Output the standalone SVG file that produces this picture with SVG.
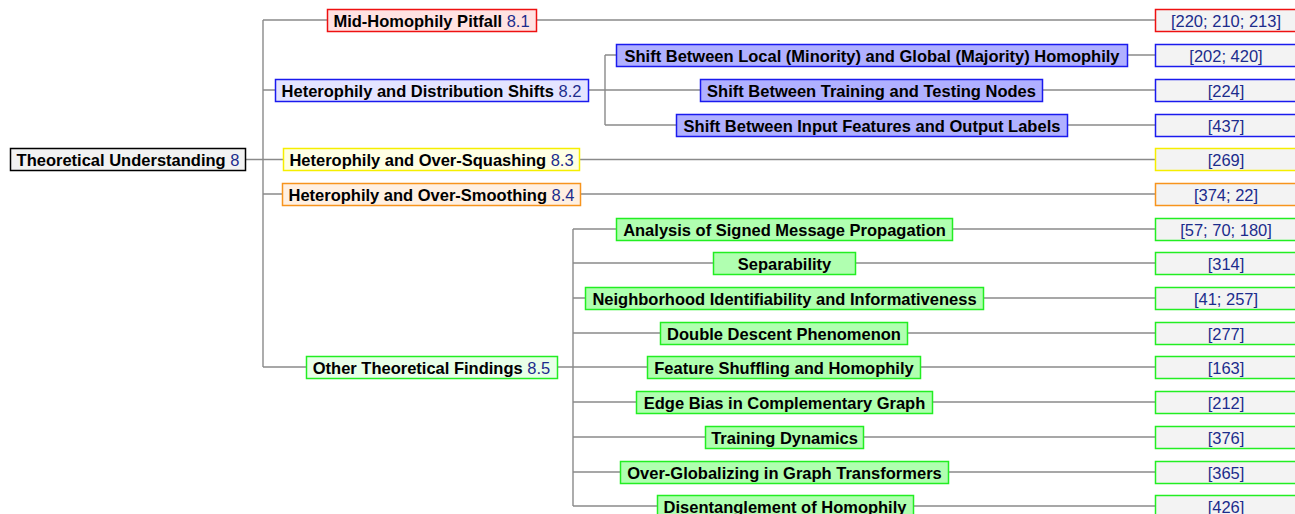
<svg xmlns="http://www.w3.org/2000/svg" width="1295" height="514" viewBox="0 0 1295 514">
<style>
text{font-family:"Liberation Sans",Arial,sans-serif;font-size:16.5px;text-anchor:middle;fill:#000}
.b{font-weight:bold}
.n{fill:#1c2c8c;font-weight:normal}
.c{fill:#1c2c8c}
.ln{stroke:#8a8a8a;stroke-width:1.4;fill:none}
rect{stroke-width:1.5}
.root{fill:#f2f2f2;stroke:#000}
.r1{fill:#ffe2e2;stroke:#ee1111}
.b1{fill:#e4e4ff;stroke:#1a1aee}
.y1{fill:#ffffe4;stroke:#f5ee00}
.o1{fill:#fff0e2;stroke:#f7941d}
.g1{fill:#e8ffe8;stroke:#22ee22}
.b2{fill:#b0b0ff;stroke:#1a1aee}
.g2{fill:#b0ffb0;stroke:#22ee22}
.cr{fill:#f3f3f3;stroke:#ee1111}
.cb{fill:#f3f3f3;stroke:#1a1aee}
.cy{fill:#f3f3f3;stroke:#f5ee00}
.co{fill:#f3f3f3;stroke:#f7941d}
.cg{fill:#f3f3f3;stroke:#22ee22}
</style>
<g id="connectors" class="ln">
<path d="M245,159.5H263M263,20V367M263,20H327M263,90H275M263,159.5H283M263,194H282M263,367H306"/>
<path d="M536,20H1155M579,159.5H1155M580,194H1155"/>
<path d="M588,90H605M605,55V125M605,55H616M605,90H700M605,125H676M1127,55H1155M1042,90H1155M1067,125H1155"/>
<path d="M557,367H573M573,229V506M573,229H616M573,263H713M573,298H585M573,333H660M573,367H647M573,402H636M573,437H705M573,472H620M573,506H657"/>
<path d="M953,229H1155M855,263H1155M983,298H1155M907,333H1155M920,367H1155M932,402H1155M863,437H1155M948,472H1155M913,506H1155"/>
</g>
<g id="n-root"><rect class="root" x="10.5" y="148.5" width="235" height="22"/><text x="128" y="165.5"><tspan class="b">Theoretical Understanding</tspan> <tspan class="n">8</tspan></text></g>
<g id="n-8-1"><rect class="r1" x="327.5" y="9.5" width="209" height="22"/><text x="431.5" y="26.5"><tspan class="b">Mid-Homophily Pitfall</tspan> <tspan class="n">8.1</tspan></text></g>
<g id="n-8-2"><rect class="b1" x="275.5" y="79.5" width="313" height="22"/><text x="431.5" y="96.5"><tspan class="b">Heterophily and Distribution Shifts</tspan> <tspan class="n">8.2</tspan></text></g>
<g id="n-8-3"><rect class="y1" x="283.5" y="148.5" width="296" height="22"/><text x="431.5" y="165.5"><tspan class="b">Heterophily and Over-Squashing</tspan> <tspan class="n">8.3</tspan></text></g>
<g id="n-8-4"><rect class="o1" x="282.5" y="183.5" width="298" height="22"/><text x="431.5" y="200.5"><tspan class="b">Heterophily and Over-Smoothing</tspan> <tspan class="n">8.4</tspan></text></g>
<g id="n-8-5"><rect class="g1" x="306.5" y="356.5" width="251" height="22"/><text x="431.5" y="373.5"><tspan class="b">Other Theoretical Findings</tspan> <tspan class="n">8.5</tspan></text></g>
<g id="n-local-global"><rect class="b2" x="616.5" y="44.5" width="511" height="22"/><text class="b" x="872" y="61.5">Shift Between Local (Minority) and Global (Majority) Homophily</text></g>
<g id="n-train-test"><rect class="b2" x="700.5" y="79.5" width="342" height="22"/><text class="b" x="871.5" y="96.5">Shift Between Training and Testing Nodes</text></g>
<g id="n-input-output"><rect class="b2" x="676.5" y="114.5" width="391" height="22"/><text class="b" x="872" y="131.5">Shift Between Input Features and Output Labels</text></g>
<g id="n-signed"><rect class="g2" x="616.5" y="218.5" width="336" height="22"/><text class="b" x="784.5" y="235.5">Analysis of Signed Message Propagation</text></g>
<g id="n-separability"><rect class="g2" x="713.5" y="252.5" width="142" height="22"/><text class="b" x="784.5" y="269.5">Separability</text></g>
<g id="n-neighborhood"><rect class="g2" x="585.5" y="287.5" width="398" height="22"/><text class="b" x="784.5" y="304.5">Neighborhood Identifiability and Informativeness</text></g>
<g id="n-double-descent"><rect class="g2" x="660.5" y="322.5" width="247" height="22"/><text class="b" x="784" y="339.5">Double Descent Phenomenon</text></g>
<g id="n-shuffling"><rect class="g2" x="647.5" y="356.5" width="273" height="22"/><text class="b" x="784" y="373.5">Feature Shuffling and Homophily</text></g>
<g id="n-edge-bias"><rect class="g2" x="636.5" y="391.5" width="296" height="22"/><text class="b" x="784.5" y="408.5">Edge Bias in Complementary Graph</text></g>
<g id="n-training-dyn"><rect class="g2" x="705.5" y="426.5" width="158" height="22"/><text class="b" x="784.5" y="443.5">Training Dynamics</text></g>
<g id="n-over-global"><rect class="g2" x="620.5" y="461.5" width="328" height="22"/><text class="b" x="784.5" y="478.5">Over-Globalizing in Graph Transformers</text></g>
<g id="n-disentangle"><rect class="g2" x="657.5" y="495.5" width="256" height="22"/><text class="b" x="785" y="512.5">Disentanglement of Homophily</text></g>
<g id="c-8-1"><rect class="cr" x="1155.5" y="9.5" width="142" height="22"/><text class="c" x="1226" y="26.5">[220; 210; 213]</text></g>
<g id="c-local-global"><rect class="cb" x="1155.5" y="44.5" width="142" height="22"/><text class="c" x="1226" y="61.5">[202; 420]</text></g>
<g id="c-train-test"><rect class="cb" x="1155.5" y="79.5" width="142" height="22"/><text class="c" x="1226" y="96.5">[224]</text></g>
<g id="c-input-output"><rect class="cb" x="1155.5" y="114.5" width="142" height="22"/><text class="c" x="1226" y="131.5">[437]</text></g>
<g id="c-8-3"><rect class="cy" x="1155.5" y="148.5" width="142" height="22"/><text class="c" x="1226" y="165.5">[269]</text></g>
<g id="c-8-4"><rect class="co" x="1155.5" y="183.5" width="142" height="22"/><text class="c" x="1226" y="200.5">[374; 22]</text></g>
<g id="c-signed"><rect class="cg" x="1155.5" y="218.5" width="142" height="22"/><text class="c" x="1226" y="235.5">[57; 70; 180]</text></g>
<g id="c-separability"><rect class="cg" x="1155.5" y="252.5" width="142" height="22"/><text class="c" x="1226" y="269.5">[314]</text></g>
<g id="c-neighborhood"><rect class="cg" x="1155.5" y="287.5" width="142" height="22"/><text class="c" x="1226" y="304.5">[41; 257]</text></g>
<g id="c-double-descent"><rect class="cg" x="1155.5" y="322.5" width="142" height="22"/><text class="c" x="1226" y="339.5">[277]</text></g>
<g id="c-shuffling"><rect class="cg" x="1155.5" y="356.5" width="142" height="22"/><text class="c" x="1226" y="373.5">[163]</text></g>
<g id="c-edge-bias"><rect class="cg" x="1155.5" y="391.5" width="142" height="22"/><text class="c" x="1226" y="408.5">[212]</text></g>
<g id="c-training-dyn"><rect class="cg" x="1155.5" y="426.5" width="142" height="22"/><text class="c" x="1226" y="443.5">[376]</text></g>
<g id="c-over-global"><rect class="cg" x="1155.5" y="461.5" width="142" height="22"/><text class="c" x="1226" y="478.5">[365]</text></g>
<g id="c-disentangle"><rect class="cg" x="1155.5" y="495.5" width="142" height="22"/><text class="c" x="1226" y="512.5">[426]</text></g>
</svg>
